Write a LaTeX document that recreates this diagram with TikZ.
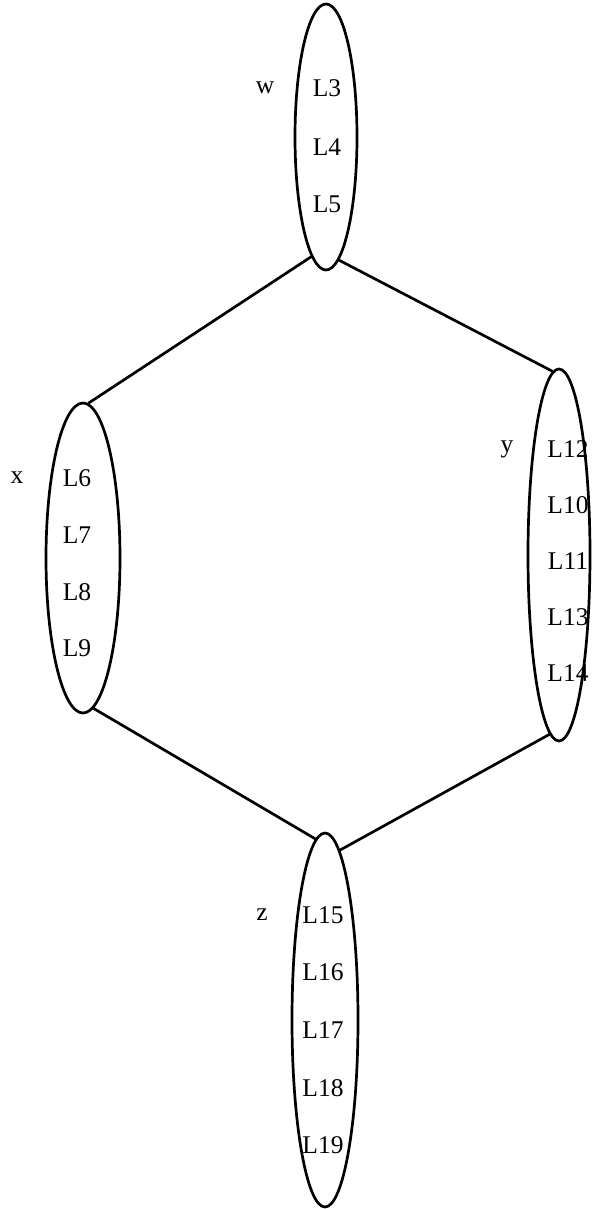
\documentclass[tikz,border=0pt]{standalone}
\usepackage{fontspec}
\setmainfont{Liberation Serif}
\usetikzlibrary{shapes.geometric}
\begin{document}
\begin{tikzpicture}[x=1pt,y=-1pt,
  oval/.style={draw,ellipse,line width=2.7pt,inner sep=0pt},
  lbl/.style={font=\fontsize{25.5}{25.5}\selectfont,inner sep=0pt},
  conn/.style={line width=2.7pt}]
\useasboundingbox (0,0) rectangle (605,1209);
% ellipses
\node[oval,minimum width=62pt,minimum height=266pt] (w) at (326,137) {};
\node[oval,minimum width=74pt,minimum height=310pt] (x) at (83,558) {};
\node[oval,minimum width=62pt,minimum height=372pt] (y) at (559,555) {};
\node[oval,minimum width=66pt,minimum height=374pt] (z) at (325,1020) {};
% texts
\node[lbl] (wl) at (265,88) {w};
\node[lbl] (w1) at (327,88) {L3};
\node[lbl] (w2) at (327,147) {L4};
\node[lbl] (w3) at (327,204) {L5};
\node[lbl] (xl) at (17,478) {x};
\node[lbl] (x1) at (77,478) {L6};
\node[lbl] (x2) at (77,535) {L7};
\node[lbl] (x3) at (77,592) {L8};
\node[lbl] (x4) at (77,648) {L9};
\node[lbl] (yl) at (507,449) {y};
\node[lbl] (y1) at (568,449) {L12};
\node[lbl] (y2) at (568,505) {L10};
\node[lbl] (y3) at (568,561) {L11};
\node[lbl] (y4) at (568,617) {L13};
\node[lbl] (y5) at (568,673) {L14};
\node[lbl] (zl) at (262,915) {z};
\node[lbl] (z1) at (323,915) {L15};
\node[lbl] (z2) at (323,972) {L16};
\node[lbl] (z3) at (323,1030) {L17};
\node[lbl] (z4) at (323,1088) {L18};
\node[lbl] (z5) at (323,1145) {L19};
% connectors
\draw[conn] (w.263) -- (x.88);
\draw[conn] (w.276) -- (y.92);
\draw[conn] (x.274) -- (z.93);
\draw[conn] (y.267) -- (z.85);
\end{tikzpicture}
\end{document}
